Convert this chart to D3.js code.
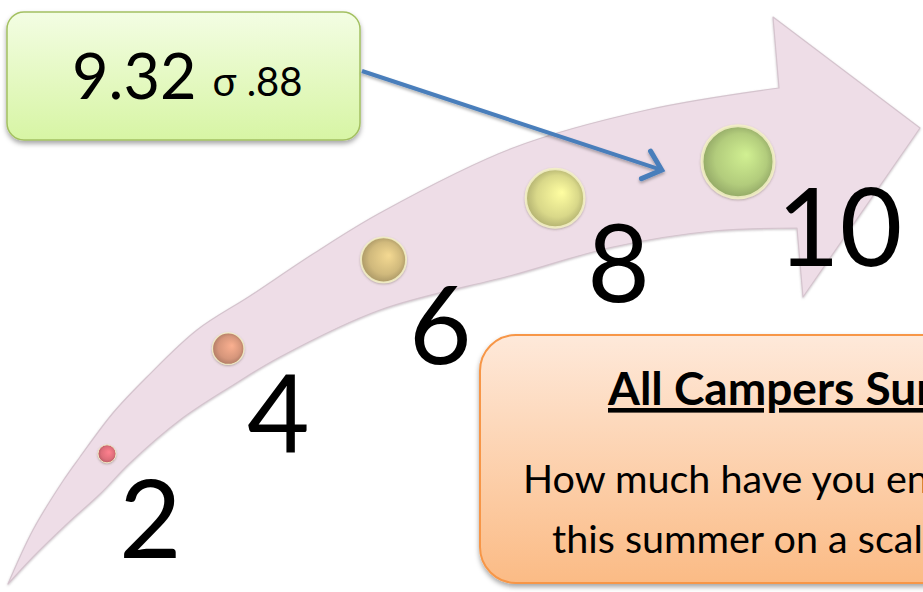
<!DOCTYPE html>
<html>
<head>
<meta charset="utf-8">
<script src="https://cdn.jsdelivr.net/npm/d3@7/dist/d3.min.js"></script>
<style>
  html, body { margin: 0; padding: 0; background: #ffffff; overflow: hidden; }
  svg { display: block; }
</style>
</head>
<body>
<svg id="chart" width="923" height="592"></svg>
<script>
// ---------------- data ----------------
const scaleValues = [2, 4, 6, 8, 10];
const scaleLabels = ["2", "4", "6", "8", "10"];
const dotColors = ["#de6e7a", "#d6967b", "#d0b97c", "#d9d889", "#b2cc7c"];
const meanScore = 9.32;
const sdLabel = "σ .88";
const meanLabel = "9.32";
const surveyTitle = "All Campers Survey";
const surveyQuestion = ["How much have you enjoyed camp", "this summer on a scale of 1-10?"];

// ------------- arrow decoration geometry -------------
const arrowTop = [[8,584],[33,530],[63,481],[80,457],[113,413],[147,377],[197,330],[250,296],[313,254],[380,213],[513,148],[647,110],[779,88]];
const arrowBottom = [[797,228],[713,231],[613,247],[513,275],[380,310],[280,357],[230,387],[180,420],[130,463],[100,494],[68,523],[33,557],[8,584]];
const arrowHead = [[779,88],[773,17],[920,128],[803,297],[797,228]];

const svg = d3.select("#chart");
const defs = svg.append("defs");

// filters
const sh = defs.append("filter").attr("id","boxShadow").attr("x","-10%").attr("y","-10%").attr("width","120%").attr("height","130%");
sh.append("feDropShadow").attr("dx",0).attr("dy",3).attr("stdDeviation",2.5).attr("flood-color","#000").attr("flood-opacity",0.35);
const ash = defs.append("filter").attr("id","arrowShadow").attr("x","-5%").attr("y","-5%").attr("width","110%").attr("height","110%");
ash.append("feDropShadow").attr("dx",0).attr("dy",1).attr("stdDeviation",1.2).attr("flood-color","#8a7a84").attr("flood-opacity",0.45);
const dsh = defs.append("filter").attr("id","dotShadow").attr("x","-30%").attr("y","-30%").attr("width","160%").attr("height","160%");
dsh.append("feDropShadow").attr("dx",0).attr("dy",1).attr("stdDeviation",1.2).attr("flood-color","#6b5a50").attr("flood-opacity",0.45);
const lsh = defs.append("filter").attr("id","lineShadow").attr("x","-10%").attr("y","-30%").attr("width","120%").attr("height","160%");
lsh.append("feDropShadow").attr("dx",0).attr("dy",2).attr("stdDeviation",1.5).attr("flood-color","#000").attr("flood-opacity",0.3);

// gradients for boxes
const gG = defs.append("linearGradient").attr("id","greenGrad").attr("x1",0).attr("y1",0).attr("x2",0).attr("y2",1);
gG.append("stop").attr("offset","0%").attr("stop-color","#f3fde3");
gG.append("stop").attr("offset","100%").attr("stop-color","#d7f5a4");
const oG = defs.append("linearGradient").attr("id","orangeGrad").attr("x1",0).attr("y1",0).attr("x2",0).attr("y2",1);
oG.append("stop").attr("offset","0%").attr("stop-color","#fee9da");
oG.append("stop").attr("offset","100%").attr("stop-color","#fbbb85");

// ---------------- curved arrow ----------------
const curveLine = d3.line().curve(d3.curveCatmullRom.alpha(0.5));
const topPath = curveLine(arrowTop);
const botPath = curveLine(arrowBottom);
const headPath = d3.line()(arrowHead).slice(1);
const fullPath = topPath + "L" + headPath + "L" + botPath.slice(1) + "Z";

svg.append("path")
  .attr("d", fullPath)
  .attr("fill", "#eedde7")
  .attr("stroke", "#d5c4ce")
  .attr("stroke-width", 1.2)
  .attr("stroke-linejoin", "round")
  .attr("filter", "url(#arrowShadow)");

// helper paths for measuring the band's midline
const measureG = svg.append("g").attr("visibility","hidden");
const topNode = measureG.append("path").attr("d", topPath).node();
const botNode = measureG.append("path").attr("d", botPath).node();
function sampleY(node, x) {
  const L = node.getTotalLength();
  let best = null, bestD = Infinity;
  for (let i = 0; i <= 800; i++) {
    const p = node.getPointAtLength(L * i / 800);
    const d = Math.abs(p.x - x);
    if (d < bestD) { bestD = d; best = p; }
  }
  return best.y;
}
function midY(x) { return (sampleY(topNode, x) + sampleY(botNode, x)) / 2; }

// ---------------- scales ----------------
const along = d3.scalePow().exponent(1.19).domain([0, 8]).range([107, 738]);
const xPos = v => along(v - d3.min(scaleValues));
const rScale = d3.scaleLinear().domain(d3.extent(scaleValues)).range([9, 36]);
const colorScale = d3.scaleOrdinal().domain(scaleValues).range(dotColors);

const dots = scaleValues.map((v, i) => {
  const x = xPos(v);
  return { v, label: scaleLabels[i], x, y: midY(x), r: rScale(v), c: colorScale(v), i };
});

// dot gradients
dots.forEach(d => {
  const g = defs.append("radialGradient").attr("id", "dotGrad" + d.i)
    .attr("cx", "50%").attr("cy", "50%").attr("r", "55%").attr("fx", "62%").attr("fy", "40%");
  g.append("stop").attr("offset", "0%").attr("stop-color", d3.color(d.c).brighter(0.45));
  g.append("stop").attr("offset", "65%").attr("stop-color", d.c);
  g.append("stop").attr("offset", "100%").attr("stop-color", d3.color(d.c).darker(0.7));
});

svg.append("g").selectAll("circle").data(dots).join("circle")
  .attr("cx", d => d.x).attr("cy", d => d.y).attr("r", d => d.r)
  .attr("fill", d => `url(#dotGrad${d.i})`)
  .attr("stroke", "#f6f2c8").attr("stroke-opacity", 0.85)
  .attr("stroke-width", d => Math.max(1, d.r / 12))
  .attr("filter", "url(#dotShadow)");

svg.append("g").selectAll("text").data(dots).join("text")
  .attr("x", d => d.x + d.r + 3)
  .attr("y", d => d.y + 104)
  .attr("font-family", "Lato, 'Open Sans', sans-serif")
  .attr("font-size", 108)
  .attr("fill", "#000")
  .text(d => d.label);

// ---------------- green mean box ----------------
const gBox = { x: 7, y: 12, w: 353, h: 128 };
svg.append("rect")
  .attr("x", gBox.x).attr("y", gBox.y).attr("width", gBox.w).attr("height", gBox.h)
  .attr("rx", 17).attr("ry", 17)
  .attr("fill", "url(#greenGrad)").attr("stroke", "#a3c061").attr("stroke-width", 1.5)
  .attr("filter", "url(#boxShadow)");

const meanText = svg.append("text")
  .attr("x", 72).attr("y", 99)
  .attr("font-family", "Lato, 'Open Sans', sans-serif")
  .attr("fill", "#000");
meanText.append("tspan").attr("font-size", 63).text(meanLabel);
meanText.append("tspan").attr("font-size", 40).attr("dx", 16).attr("dy", -3).text(sdLabel);

// ---------------- blue pointer arrow ----------------
const tipX = xPos(meanScore) - 13;
const tipY = midY(xPos(meanScore));
const startX = gBox.x + gBox.w + 2, startY = gBox.y + gBox.h / 2 - 5;
const ang = Math.atan2(tipY - startY, tipX - startX);
const wing = 22, spread = 0.72;
const w1 = [tipX - wing * Math.cos(ang - spread), tipY - wing * Math.sin(ang - spread)];
const w2 = [tipX - wing * Math.cos(ang + spread), tipY - wing * Math.sin(ang + spread)];
const pg = svg.append("g").attr("filter", "url(#lineShadow)");
pg.append("path")
  .attr("d", d3.line()([[startX, startY], [tipX - 2*Math.cos(ang), tipY - 2*Math.sin(ang)]]))
  .attr("stroke", "#4a7ebb").attr("stroke-width", 4).attr("fill", "none");
pg.append("path")
  .attr("d", d3.line()([w1, [tipX, tipY], w2]))
  .attr("stroke", "#4a7ebb").attr("stroke-width", 5).attr("fill", "none")
  .attr("stroke-linecap", "round").attr("stroke-linejoin", "miter");

// ---------------- orange survey box ----------------
svg.append("rect")
  .attr("x", 480).attr("y", 335).attr("width", 520).attr("height", 248)
  .attr("rx", 36).attr("ry", 36)
  .attr("fill", "url(#orangeGrad)").attr("stroke", "#f79646").attr("stroke-width", 2)
  .attr("filter", "url(#boxShadow)");

svg.append("text")
  .attr("x", 608).attr("y", 405)
  .attr("font-family", "Lato, 'Open Sans', sans-serif")
  .attr("font-weight", "bold").attr("font-size", 46)
  .attr("text-decoration", "underline")
  .attr("fill", "#000")
  .text(surveyTitle);

svg.append("g").selectAll("text").data(surveyQuestion).join("text")
  .attr("x", (d, i) => i === 0 ? 523 : 552)
  .attr("y", (d, i) => 493 + i * 60)
  .attr("font-family", "Lato, 'Open Sans', sans-serif")
  .attr("font-size", 39.5)
  .attr("fill", "#000")
  .text(d => d);
</script>
</body>
</html>
